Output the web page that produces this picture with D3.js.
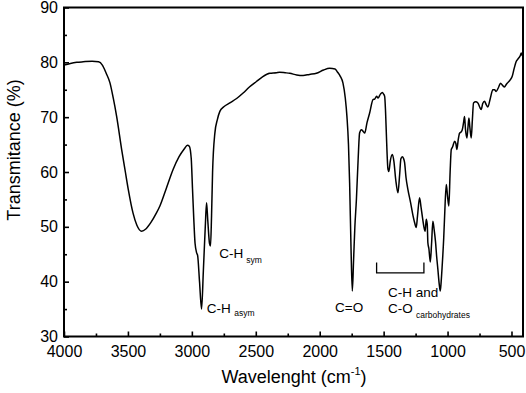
<!DOCTYPE html>
<html><head><meta charset="utf-8">
<script src="https://cdn.jsdelivr.net/npm/d3@7/dist/d3.min.js"></script>
<style>
body{margin:0;background:#fff;}
svg{display:block;font-family:"Liberation Sans",Arial,sans-serif;}
</style></head>
<body><svg id="c" width="526" height="393"></svg>
<script>
// Wavenumber (cm-1) and transmittance (%)
const wavenumber = [4000,3950,3900,3850,3780,3730,3700,3670,3641,3615,3588,3549,3520,3497,3460,3430,3393,3360,3320,3280,3250,3200,3146,3100,3060,3035,3020,3005,2995,2985,2975,2962,2955,2940,2924,2910,2895,2885,2875,2862,2854,2846,2838,2820,2800,2781,2750,2703,2650,2599,2550,2495,2450,2391,2340,2313,2270,2234,2180,2130,2080,2026,1970,1922,1880,1860,1840,1818,1800,1787,1775,1766,1755,1745,1735,1725,1713,1700,1688,1674,1660,1648,1630,1609,1583,1570,1555,1544,1525,1510,1500,1492,1485,1479,1466,1459,1448,1432,1420,1405,1388,1375,1365,1354,1345,1336,1325,1310,1290,1270,1258,1245,1235,1219,1207,1198,1185,1175,1167,1159,1154,1146,1135,1125,1115,1105,1094,1085,1076,1065,1057,1050,1042,1030,1023,1010,1000,990,980,971,960,945,935,927,916,906,895,885,875,867,860,849,841,833,825,815,806,797,780,763,750,737,725,711,698,685,665,646,632,620,600,586,570,555,540,529,510,495,480,464,453,443,430,424,415,410];
const transmittance = [79.5,79.8,80.0,80.1,80.2,80.1,79.5,78.0,76.3,73.5,70.1,64.1,60.0,56.8,52.5,50.3,49.2,49.6,50.8,52.4,53.8,57.0,60.5,62.8,64.2,64.9,64.7,62.5,57.0,51.5,47.0,45.2,44.8,40.0,35.0,42.0,50.0,54.4,51.0,47.0,46.5,52.0,59.9,67.1,69.6,71.05,71.9,72.6,73.4,74.4,75.5,76.5,77.3,78.0,78.1,78.2,78.1,78.0,77.7,77.6,77.8,78.0,78.6,78.9,78.8,78.2,77.5,76.2,73.5,70.1,65.0,58.0,46.0,38.3,44.0,50.0,55.0,62.0,67.1,67.7,67.4,67.1,69.0,70.8,73.2,73.3,73.8,73.5,74.2,74.5,74.2,73.8,71.0,67.1,60.5,60.1,62.0,63.2,62.0,58.5,56.2,59.5,62.4,62.8,62.5,61.7,59.0,56.8,54.5,52.0,50.8,49.9,52.0,55.3,53.5,52.0,50.0,49.2,51.4,50.5,47.1,46.0,43.6,47.0,51.0,49.5,47.2,44.5,42.3,39.5,38.3,40.0,42.9,48.0,52.0,57.7,55.5,53.8,60.0,64.1,64.6,65.6,65.2,64.1,66.0,67.1,67.3,67.7,69.0,70.1,67.8,66.2,68.0,69.85,68.0,66.2,69.5,72.6,72.8,72.6,71.9,71.4,72.5,72.9,72.3,71.85,73.5,75.0,75.0,74.7,75.5,76.2,75.8,75.5,76.0,76.3,76.8,77.4,78.8,80.1,80.5,80.8,81.3,81.7,81.2,81.5];

const xTicks = [4000,3500,3000,2500,2000,1500,1000,500];
const xMinorTicks = [3750,3250,2750,2250,1750,1250,750];
const yTicks = [30,40,50,60,70,80,90];
const yMinorTicks = [35,45,55,65,75,85];

const svg = d3.select("#c");
const L = 64, R = 523, T = 7.5, B = 336.5;
const x = d3.scaleLinear().domain([4000, 410]).range([L, R]);
const y = d3.scaleLinear().domain([30, 90]).range([B, T]);

// axes
const gx = svg.append("g").attr("transform", `translate(0,${B})`)
  .call(d3.axisBottom(x).tickValues(xTicks).tickSize(-5).tickPadding(9).tickFormat(d3.format("d")));
const gxm = svg.append("g").attr("transform", `translate(0,${B})`)
  .call(d3.axisBottom(x).tickValues(xMinorTicks).tickSize(-3).tickFormat(""));
const gy = svg.append("g").attr("transform", `translate(${L},0)`)
  .call(d3.axisLeft(y).tickValues(yTicks).tickSize(-5).tickPadding(6).tickFormat(d3.format("d")));
const gym = svg.append("g").attr("transform", `translate(${L},0)`)
  .call(d3.axisLeft(y).tickValues(yMinorTicks).tickSize(-3).tickFormat(""));
[gx,gxm,gy,gym].forEach(g=>{
  g.select(".domain").remove();
  g.selectAll(".tick line").attr("stroke","#000").attr("stroke-width",1.6);
  g.selectAll(".tick text").attr("font-size",16).attr("fill","#000")
    .attr("font-family","'Liberation Sans',Arial,sans-serif");
});
gx.selectAll(".tick text").attr("dy","0.71em").attr("y",9);

// frame
svg.append("rect").attr("x",L).attr("y",T).attr("width",R-L).attr("height",B-T)
  .attr("fill","none").attr("stroke","#000").attr("stroke-width",2);

// spectrum
const pts = wavenumber.map((w,i)=>[w, transmittance[i]]);
svg.append("path").datum(pts)
  .attr("fill","none").attr("stroke","#000").attr("stroke-width",1.5).attr("stroke-linejoin","round")
  .attr("d", d3.line().x(d=>x(d[0])).y(d=>y(d[1])).curve(d3.curveMonotoneX));

// annotations
function label(txt, sub, wn, t, gap, dy){
  const tx = svg.append("text").attr("x",x(wn)).attr("y",y(t)).attr("font-size",13.5).attr("fill","#000").text(txt);
  if(sub){
    tx.append("tspan").attr("font-size",8.5).attr("dx",gap).attr("dy",dy).text(sub);
  }
}
label("C-H","sym",2785,44.3,3,5);
label("C-H","asym",2884,34.3,3.5,3.5);
label("C=O",null,1880,34.5);
label("C-H and",null,1466,37.26);
label("C-O","carbohydrates",1466,34.23,3.3,5);

// bracket
const bx0 = x(1555), bx1 = x(1185), by = y(41.6), byt = y(43.5);
svg.append("path").attr("fill","none").attr("stroke","#000").attr("stroke-width",1.3)
  .attr("d",`M${bx0},${byt}V${by}H${bx1}V${byt}`);

// axis titles
svg.append("text").attr("x",294).attr("y",383).attr("text-anchor","middle").attr("font-size",18).attr("fill","#000")
  .text("Wavelenght (cm").append("tspan").attr("font-size",11).attr("dy",-8).text("-1")
  .select(function(){return this.parentNode;}).append("tspan").attr("dy",8).text(")");
svg.append("text").attr("transform","translate(20,150) rotate(-90)").attr("text-anchor","middle")
  .attr("font-size",18).attr("fill","#000").text("Transmitance (%)");
</script></body></html>
